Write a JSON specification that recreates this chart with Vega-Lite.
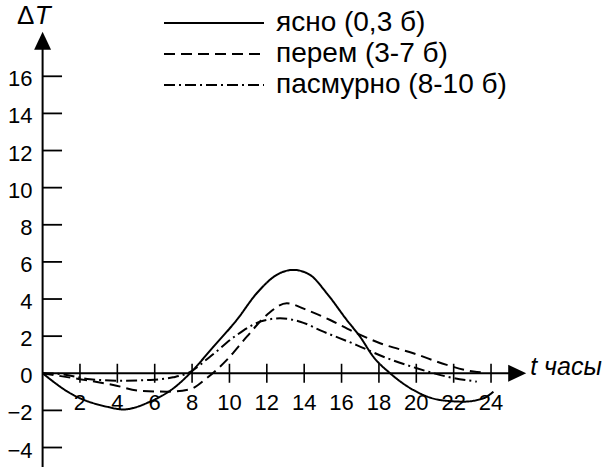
{
  "$schema": "https://vega.github.io/schema/vega-lite/v6.json",
  "width": 608,
  "height": 467,
  "autosize": {"type": "none"},
  "padding": 0,
  "background": "white",
  "config": {"view": {"stroke": null}, "font": "Liberation Sans"},
  "datasets": {
    "one": [{"k": 1}],
    "curves": [
      {"h": 0, "v": 0, "series": "ясно (0,3 б)"},
      {"h": 1.64, "v": -1.17, "series": "ясно (0,3 б)"},
      {"h": 3.43, "v": -1.8, "series": "ясно (0,3 б)"},
      {"h": 4.32, "v": -1.95, "series": "ясно (0,3 б)"},
      {"h": 5.75, "v": -1.53, "series": "ясно (0,3 б)"},
      {"h": 7.0, "v": -0.81, "series": "ясно (0,3 б)"},
      {"h": 7.89, "v": 0.0, "series": "ясно (0,3 б)"},
      {"h": 9.14, "v": 1.43, "series": "ясно (0,3 б)"},
      {"h": 10.39, "v": 2.87, "series": "ясно (0,3 б)"},
      {"h": 11.46, "v": 4.31, "series": "ясно (0,3 б)"},
      {"h": 12.53, "v": 5.3, "series": "ясно (0,3 б)"},
      {"h": 13.42, "v": 5.57, "series": "ясно (0,3 б)"},
      {"h": 14.31, "v": 5.3, "series": "ясно (0,3 б)"},
      {"h": 15.21, "v": 4.31, "series": "ясно (0,3 б)"},
      {"h": 16.28, "v": 2.87, "series": "ясно (0,3 б)"},
      {"h": 16.99, "v": 1.97, "series": "ясно (0,3 б)"},
      {"h": 17.7, "v": 0.89, "series": "ясно (0,3 б)"},
      {"h": 18.6, "v": 0.0, "series": "ясно (0,3 б)"},
      {"h": 19.84, "v": -0.9, "series": "ясно (0,3 б)"},
      {"h": 21.27, "v": -1.44, "series": "ясно (0,3 б)"},
      {"h": 22.52, "v": -1.53, "series": "ясно (0,3 б)"},
      {"h": 23.59, "v": -1.35, "series": "ясно (0,3 б)"},
      {"h": 24.13, "v": -0.99, "series": "ясно (0,3 б)"},
      {"h": 0, "v": 0, "series": "перем (3-7 б)"},
      {"h": 2.0, "v": -0.32, "series": "перем (3-7 б)"},
      {"h": 3.78, "v": -0.63, "series": "перем (3-7 б)"},
      {"h": 5.21, "v": -0.94, "series": "перем (3-7 б)"},
      {"h": 6.64, "v": -0.99, "series": "перем (3-7 б)"},
      {"h": 7.89, "v": -0.86, "series": "перем (3-7 б)"},
      {"h": 8.78, "v": -0.27, "series": "перем (3-7 б)"},
      {"h": 9.86, "v": 0.72, "series": "перем (3-7 б)"},
      {"h": 10.93, "v": 1.97, "series": "перем (3-7 б)"},
      {"h": 12.0, "v": 3.14, "series": "перем (3-7 б)"},
      {"h": 13.07, "v": 3.77, "series": "перем (3-7 б)"},
      {"h": 14.14, "v": 3.41, "series": "перем (3-7 б)"},
      {"h": 15.39, "v": 2.87, "series": "перем (3-7 б)"},
      {"h": 16.63, "v": 2.24, "series": "перем (3-7 б)"},
      {"h": 18.06, "v": 1.62, "series": "перем (3-7 б)"},
      {"h": 19.84, "v": 1.08, "series": "перем (3-7 б)"},
      {"h": 21.63, "v": 0.45, "series": "перем (3-7 б)"},
      {"h": 23.06, "v": 0.09, "series": "перем (3-7 б)"},
      {"h": 23.77, "v": 0.03, "series": "перем (3-7 б)"},
      {"h": 0, "v": 0, "series": "пасмурно (8-10 б)"},
      {"h": 0.93, "v": -0.04, "series": "пасмурно (8-10 б)"},
      {"h": 2.54, "v": -0.32, "series": "пасмурно (8-10 б)"},
      {"h": 4.14, "v": -0.4, "series": "пасмурно (8-10 б)"},
      {"h": 5.75, "v": -0.36, "series": "пасмурно (8-10 б)"},
      {"h": 6.98, "v": -0.22, "series": "пасмурно (8-10 б)"},
      {"h": 7.8, "v": 0.02, "series": "пасмурно (8-10 б)"},
      {"h": 8.96, "v": 0.89, "series": "пасмурно (8-10 б)"},
      {"h": 10.39, "v": 2.06, "series": "пасмурно (8-10 б)"},
      {"h": 11.64, "v": 2.78, "series": "пасмурно (8-10 б)"},
      {"h": 12.71, "v": 2.96, "series": "пасмурно (8-10 б)"},
      {"h": 13.78, "v": 2.78, "series": "пасмурно (8-10 б)"},
      {"h": 15.03, "v": 2.24, "series": "пасмурно (8-10 б)"},
      {"h": 16.81, "v": 1.52, "series": "пасмурно (8-10 б)"},
      {"h": 18.24, "v": 0.89, "series": "пасмурно (8-10 б)"},
      {"h": 20.03, "v": 0.27, "series": "пасмурно (8-10 б)"},
      {"h": 21.63, "v": -0.18, "series": "пасмурно (8-10 б)"},
      {"h": 23.24, "v": -0.45, "series": "пасмурно (8-10 б)"}
    ],
    "xticks": [
      {"t": 2}, {"t": 4}, {"t": 6}, {"t": 8}, {"t": 10}, {"t": 12},
      {"t": 14}, {"t": 16}, {"t": 18}, {"t": 20}, {"t": 22}, {"t": 24}
    ],
    "yticks": [
      {"v": -4}, {"v": -2}, {"v": 2}, {"v": 4}, {"v": 6}, {"v": 8},
      {"v": 10}, {"v": 12}, {"v": 14}, {"v": 16}
    ],
    "ylabels": [
      {"v": -4}, {"v": -2}, {"v": 0}, {"v": 2}, {"v": 4}, {"v": 6}, {"v": 8},
      {"v": 10}, {"v": 12}, {"v": 14}, {"v": 16}
    ]
  },
  "layer": [
    {
      "data": {"name": "one"},
      "mark": {"type": "rule", "color": "black", "strokeWidth": 2},
      "encoding": {
        "x": {"datum": 0, "type": "quantitative", "scale": {"domain": [-2.28, 30.26], "nice": false, "zero": false}, "axis": null},
        "y": {"datum": -5.05, "type": "quantitative", "scale": {"domain": [-5.05, 20.11], "nice": false, "zero": false}, "axis": null},
        "y2": {"datum": 17.6}
      }
    },
    {
      "data": {"name": "one"},
      "mark": {"type": "point", "shape": "M0,-1L0.94,1L-0.94,1Z", "size": 324, "filled": true, "color": "black", "opacity": 1},
      "encoding": {
        "x": {"datum": 0, "type": "quantitative", "scale": {"domain": [-2.28, 30.26], "nice": false, "zero": false}, "axis": null},
        "y": {"datum": 17.92, "type": "quantitative", "scale": {"domain": [-5.05, 20.11], "nice": false, "zero": false}, "axis": null}
      }
    },
    {
      "data": {"name": "one"},
      "mark": {"type": "rule", "color": "black", "strokeWidth": 2},
      "encoding": {
        "x": {"datum": 0, "type": "quantitative", "scale": {"domain": [-2.28, 30.26], "nice": false, "zero": false}, "axis": null},
        "x2": {"datum": 25.0},
        "y": {"datum": 0, "type": "quantitative", "scale": {"domain": [-5.05, 20.11], "nice": false, "zero": false}, "axis": null}
      }
    },
    {
      "data": {"name": "one"},
      "mark": {"type": "point", "shape": "M1,0L-1,-0.94L-1,0.94Z", "size": 324, "filled": true, "color": "black", "opacity": 1},
      "encoding": {
        "x": {"datum": 25.4, "type": "quantitative", "scale": {"domain": [-2.28, 30.26], "nice": false, "zero": false}, "axis": null},
        "y": {"datum": 0, "type": "quantitative", "scale": {"domain": [-5.05, 20.11], "nice": false, "zero": false}, "axis": null}
      }
    },
    {
      "data": {"name": "xticks"},
      "mark": {"type": "tick", "orient": "vertical", "size": 19, "thickness": 1.6, "color": "black", "opacity": 1},
      "encoding": {
        "x": {"field": "t", "type": "quantitative", "scale": {"domain": [-2.28, 30.26], "nice": false, "zero": false}, "axis": null},
        "y": {"datum": 0, "type": "quantitative", "scale": {"domain": [-5.05, 20.11], "nice": false, "zero": false}, "axis": null}
      }
    },
    {
      "data": {"name": "yticks"},
      "mark": {"type": "rule", "color": "black", "strokeWidth": 1.8},
      "encoding": {
        "x": {"datum": 0, "type": "quantitative", "scale": {"domain": [-2.28, 30.26], "nice": false, "zero": false}, "axis": null},
        "x2": {"datum": 1.04},
        "y": {"field": "v", "type": "quantitative", "scale": {"domain": [-5.05, 20.11], "nice": false, "zero": false}, "axis": null}
      }
    },
    {
      "data": {"name": "ylabels"},
      "mark": {"type": "text", "align": "right", "baseline": "middle", "dx": -10, "dy": 3, "fontSize": 22, "color": "black"},
      "encoding": {
        "x": {"datum": 0, "type": "quantitative", "scale": {"domain": [-2.28, 30.26], "nice": false, "zero": false}, "axis": null},
        "y": {"field": "v", "type": "quantitative", "scale": {"domain": [-5.05, 20.11], "nice": false, "zero": false}, "axis": null},
        "text": {"field": "v", "type": "quantitative"}
      }
    },
    {
      "data": {"name": "xticks"},
      "mark": {"type": "text", "align": "center", "baseline": "middle", "dy": 30, "fontSize": 22, "color": "black"},
      "encoding": {
        "x": {"field": "t", "type": "quantitative", "scale": {"domain": [-2.28, 30.26], "nice": false, "zero": false}, "axis": null},
        "y": {"datum": 0, "type": "quantitative", "scale": {"domain": [-5.05, 20.11], "nice": false, "zero": false}, "axis": null},
        "text": {"field": "t", "type": "quantitative"}
      }
    },
    {
      "data": {"name": "curves"},
      "mark": {"type": "line", "color": "black", "strokeWidth": 2, "interpolate": "monotone"},
      "encoding": {
        "x": {"field": "h", "type": "quantitative", "scale": {"domain": [-2.28, 30.26], "nice": false, "zero": false}, "axis": null},
        "y": {"field": "v", "type": "quantitative", "scale": {"domain": [-5.05, 20.11], "nice": false, "zero": false}, "axis": null},
        "strokeDash": {
          "field": "series",
          "type": "nominal",
          "scale": {
            "domain": ["ясно (0,3 б)", "перем (3-7 б)", "пасмурно (8-10 б)"],
            "range": [[1, 0], [11, 6], [11, 4, 2, 4]]
          },
          "legend": {
            "orient": "none",
            "legendX": 200,
            "legendY": 9,
            "title": null,
            "padding": 0,
            "symbolType": "M-10,0H10",
            "symbolSize": 100,
            "symbolStrokeWidth": 2,
            "symbolStrokeColor": "black",
            "labelFontSize": 28,
            "labelFont": "Liberation Sans",
            "labelColor": "black",
            "labelOffset": 48,
            "labelLimit": 400,
            "rowPadding": 3
          }
        }
      }
    },
    {
      "data": {"name": "one"},
      "mark": {"type": "text", "text": "Δ", "align": "center", "baseline": "middle", "dx": -17, "fontSize": 26, "color": "black"},
      "encoding": {
        "x": {"datum": 0, "type": "quantitative", "scale": {"domain": [-2.28, 30.26], "nice": false, "zero": false}, "axis": null},
        "y": {"datum": 19.25, "type": "quantitative", "scale": {"domain": [-5.05, 20.11], "nice": false, "zero": false}, "axis": null}
      }
    },
    {
      "data": {"name": "one"},
      "mark": {"type": "text", "text": "T", "align": "center", "baseline": "middle", "dx": 0, "fontSize": 26, "fontStyle": "italic", "color": "black"},
      "encoding": {
        "x": {"datum": 0, "type": "quantitative", "scale": {"domain": [-2.28, 30.26], "nice": false, "zero": false}, "axis": null},
        "y": {"datum": 19.25, "type": "quantitative", "scale": {"domain": [-5.05, 20.11], "nice": false, "zero": false}, "axis": null}
      }
    },
    {
      "data": {"name": "one"},
      "mark": {"type": "text", "text": "t часы", "align": "left", "baseline": "middle", "dx": 4, "dy": -6, "fontSize": 25, "fontStyle": "italic", "color": "black"},
      "encoding": {
        "x": {"datum": 25.88, "type": "quantitative", "scale": {"domain": [-2.28, 30.26], "nice": false, "zero": false}, "axis": null},
        "y": {"datum": 0, "type": "quantitative", "scale": {"domain": [-5.05, 20.11], "nice": false, "zero": false}, "axis": null}
      }
    }
  ]
}
